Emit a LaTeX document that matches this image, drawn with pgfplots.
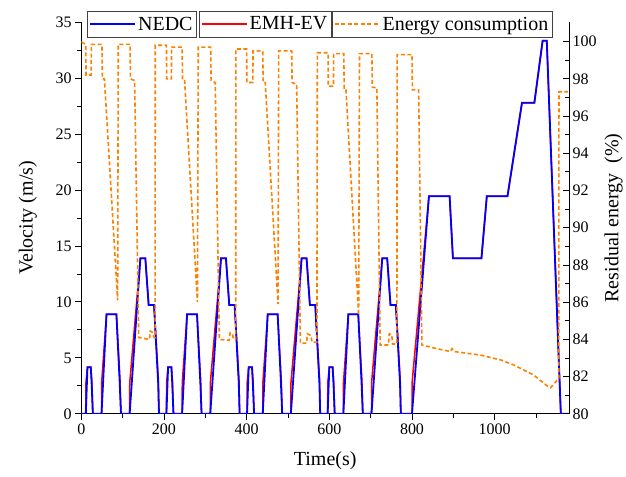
\documentclass[border=0pt]{standalone}
\usepackage{fontspec}
\setmainfont{Liberation Serif}
\usepackage{pgfplots}
\pgfplotsset{compat=1.18}

\definecolor{nedcblue}{RGB}{0,0,255}
\definecolor{emhred}{RGB}{255,0,0}
\definecolor{energyorange}{RGB}{255,128,0}

\pgfplotsset{
  common/.style={
    scale only axis, width=488pt, height=392pt,
    xmin=0, xmax=1180,
    /pgf/number format/assume math mode=true,
    /pgf/number format/1000 sep={},
    ticklabel style={font=\fontsize{16}{19}\selectfont},
    label style={font=\fontsize{20}{24}\selectfont},
    axis line style={-, line width=0.8pt},
    tick style={black, line width=0.8pt},
    major tick length=6pt, minor tick length=4pt,
    legend image code/.code={\draw[##1] (0pt,0pt) -- (45pt,0pt);},
    legend style={anchor=north west, draw=black!75, line width=0.7pt,
      font=\fontsize{20}{24}\selectfont, inner xsep=2pt, inner ysep=3.5pt,
      fill=white},
  },
}

\begin{document}
\begin{tikzpicture}

% left axis: velocity
\begin{axis}[common, name=main,
  ymin=0, ymax=35,
  axis x line*=bottom, axis y line*=left,
  tick align=outside,
  xtick={0,200,...,1000}, minor xtick={100,300,...,1100},
  ytick={0,5,...,35}, minor ytick={2.5,7.5,...,32.5},
  xlabel={Time(s)}, ylabel={Velocity (m/s)},
  xlabel style={yshift=-11pt}, ylabel style={yshift=12pt},
  legend style={at={(0.0117,1.028)}},
]
\addplot[emhred, line width=1.5pt, forget plot] coordinates {
(0,0)(11,0)(11.3,2.8)(15,4.17)(23,4.17)(25.6,2.9)(28,0)(49,0)(49.3,2.8)(61,8.89)(85,8.89)(93.8,3.0)(96,0)(117,0)(117.3,2.8)(143,13.89)(155,13.89)(163,9.72)(176,9.72)(186.5,3.0)(188,0)
(206,0)(206.3,2.8)(210,4.17)(218,4.17)(220.6,2.9)(223,0)(244,0)(244.3,2.8)(256,8.89)(280,8.89)(288.8,3.0)(291,0)(312,0)(312.3,2.8)(338,13.89)(350,13.89)(358,9.72)(371,9.72)(381.5,3.0)(383,0)
(401,0)(401.3,2.8)(405,4.17)(413,4.17)(415.6,2.9)(418,0)(439,0)(439.3,2.8)(451,8.89)(475,8.89)(483.8,3.0)(486,0)(507,0)(507.3,2.8)(533,13.89)(545,13.89)(553,9.72)(566,9.72)(576.5,3.0)(578,0)
(596,0)(596.3,2.8)(600,4.17)(608,4.17)(610.6,2.9)(613,0)(634,0)(634.3,2.8)(646,8.89)(670,8.89)(678.8,3.0)(681,0)(702,0)(702.3,2.8)(728,13.89)(740,13.89)(748,9.72)(761,9.72)(771.5,3.0)(773,0)
(800,0)(800.3,2.8)(841,19.44)(891,19.44)(899,13.89)(968,13.89)(981,19.44)(1031,19.44)(1066,27.78)(1096,27.78)(1116,33.33)(1126,33.33)(1160,0)(1180,0)
};
\addplot[nedcblue, line width=1.8pt] coordinates {
(0,0)(11,0)(15,4.17)(23,4.17)(25,2.78)(28,0)(49,0)(61,8.89)(85,8.89)(93,2.78)(96,0)(117,0)(143,13.89)(155,13.89)(163,9.72)(176,9.72)(186,2.78)(188,0)
(206,0)(210,4.17)(218,4.17)(220,2.78)(223,0)(244,0)(256,8.89)(280,8.89)(288,2.78)(291,0)(312,0)(338,13.89)(350,13.89)(358,9.72)(371,9.72)(381,2.78)(383,0)
(401,0)(405,4.17)(413,4.17)(415,2.78)(418,0)(439,0)(451,8.89)(475,8.89)(483,2.78)(486,0)(507,0)(533,13.89)(545,13.89)(553,9.72)(566,9.72)(576,2.78)(578,0)
(596,0)(600,4.17)(608,4.17)(610,2.78)(613,0)(634,0)(646,8.89)(670,8.89)(678,2.78)(681,0)(702,0)(728,13.89)(740,13.89)(748,9.72)(761,9.72)(771,2.78)(773,0)
(800,0)(841,19.44)(891,19.44)(899,13.89)(968,13.89)(981,19.44)(1031,19.44)(1066,27.78)(1096,27.78)(1116,33.33)(1126,33.33)(1160,0)(1180,0)
};
\addlegendentry{NEDC}
\end{axis}

% legend box for EMH-EV
\begin{axis}[common, hide axis, ymin=0, ymax=35,
  legend style={at={(0.241,1.028)}},
]
\addlegendimage{emhred, line width=1.5pt}
\addlegendentry{EMH-EV}
\end{axis}

% right axis: residual energy
\begin{axis}[common,
  ymin=80, ymax=101.05,
  axis y line*=right, axis x line=none,
  tick align=inside,
  ytick={80,82,...,100}, minor ytick={81,83,...,99},
  ylabel={Residual energy~~(\%)}, ylabel style={yshift=-1pt},
  legend style={at={(0.5133,1.028)}},
]
\addplot[energyorange, line width=1.6pt, dash pattern=on 4pt off 2.5pt] coordinates {
(0,99.97)(11,99.85)(11.5,98.2)(24,98.2)(24.5,99.85)(50,99.85)(51,98.0)(56,98.0)(88,86.1)(89.5,99.85)(118,99.85)(119,98.0)(129,97.9)(139,84.1)(165,84.0)(167,84.45)(174,84.35)(176,84.1)(178.5,84.1)
(179,99.8)(206,99.8)(206.5,98.0)(218,98.0)(218.5,99.7)(244,99.7)(245,97.9)(250,97.9)(281,86.0)(283,99.7)(313,99.7)(314,97.9)(324,97.8)(334,84.0)(358,83.95)(360,84.35)(366,84.3)(368,84.0)(373.5,84.0)
(374,99.6)(400,99.6)(400.5,97.8)(415,97.8)(415.5,99.5)(439,99.5)(440,97.8)(445,97.8)(476,85.9)(477.5,99.5)(509,99.5)(510,97.8)(521,97.7)(530,83.8)(545,83.8)(547,84.3)(556,84.2)(558,83.85)(570,83.85)
(571,99.4)(597,99.4)(597.5,97.6)(610,97.6)(610.5,99.35)(635,99.35)(636,97.5)(640,97.5)(671,85.3)(673,99.35)(703,99.35)(704,97.55)(715,97.5)(723,83.7)(743,83.7)(745,84.3)(751,84.25)(753,83.75)(763.5,83.75)
(764,99.3)(800,99.3)(801,97.4)(816,97.4)(824,83.7)(860,83.5)(893,83.35)(897,83.5)(901,83.35)(965,83.16)(1014,82.9)(1046,82.63)(1094,82.09)(1127,81.5)(1135,81.4)(1151,81.8)(1155,81.85)(1155.5,97.3)(1177,97.3)
};
\addlegendentry{Energy consumption}
\end{axis}

% page margins as in the reference
\path (main.south west) ++(-81.3pt,-63pt) coordinate (bbA);
\path (main.north east) ++(56.7pt,22pt) coordinate (bbB);
\useasboundingbox (bbA) rectangle (bbB);

\end{tikzpicture}
\end{document}
